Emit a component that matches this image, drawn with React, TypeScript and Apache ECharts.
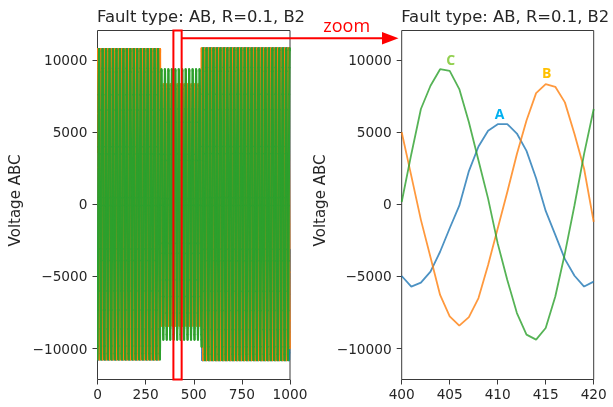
import React, { useEffect, useRef } from "react";
import * as echarts from "echarts";

// ---- data ----
const zoomX = [400, 401, 402, 403, 404, 405, 406, 407, 408, 409, 410, 411, 412, 413, 414, 415, 416, 417, 418, 419, 420];
const phaseA = [-4970, -5700, -5430, -4670, -3290, -1660, -100, 2300, 4000, 5100, 5550, 5550, 4900, 3700, 1800, -460, -2120, -3800, -4950, -5700, -5360];
const phaseB = [4990, 1970, -1080, -3670, -6280, -7770, -8410, -7820, -6500, -4200, -1680, 850, 3490, 5800, 7700, 8320, 8140, 7060, 4870, 2460, -1220];
const phaseC = [160, 3470, 6600, 8210, 9360, 9240, 7980, 5680, 3030, 390, -2710, -5240, -7540, -9030, -9380, -8570, -6390, -3400, -70, 3490, 6600];

// one measured cycle (samples 401..418) of each phase, taken from the zoom window
const cycleStart = 401;
const cycleLength = 18;

// envelope of the full record (balanced before / after the fault)
const sampleCount = 1000;
const faultStart = 326;
const faultEnd = 541;
const prefaultPeak = 10750;
const postfaultPeak = 10800;

const yTicks = [-10000, -5000, 0, 5000, 10000];
const yMin = -12140;
const yMax = 12040;
const titleText = "Fault type: AB, R=0.1, B2";
const yName = "Voltage ABC";
const phaseNames = ["A", "B", "C"];
const phaseLabelX = [410.2, 415.1, 405.1];
const phaseLabelY = [6300, 9120, 10000];
const phaseLabelColors = ["#00b0f0", "#ffc000", "#92d050"];
const lineColors = ["#1f77b4", "#ff7f0e", "#2ca02c"];

function buildRecord(measured: number[]) {
  const cycle = measured.slice(cycleStart - zoomX[0], cycleStart - zoomX[0] + cycleLength);
  const maxPos = Math.max(...cycle);
  const maxNeg = -Math.min(...cycle);
  const out: number[][] = [];
  for (let n = 0; n < sampleCount; n++) {
    const zi = n - zoomX[0];
    let v: number;
    if (zi >= 0 && zi < measured.length) {
      v = measured[zi];
    } else {
      const k = (((n - cycleStart) % cycleLength) + cycleLength) % cycleLength;
      const c = cycle[k];
      if (n >= faultStart && n < faultEnd) v = c;
      else {
        const env = n < faultStart ? prefaultPeak : postfaultPeak;
        v = c >= 0 ? (c * env) / maxPos : (c * env) / maxNeg;
      }
    }
    out.push([n, v]);
  }
  return out;
}

const fmtY = (v: number) => (v < 0 ? "\u2212" + Math.abs(v) : String(v));
const TXT = "#262626";
const FRAME = "#3a3a3a";
const RED = "#ff0000";

export default function App() {
  const ref = useRef<HTMLDivElement>(null);
  useEffect(() => {
    if (!ref.current) return;
    const chart = echarts.init(ref.current, undefined, { renderer: "svg" });
    const phases = [phaseA, phaseB, phaseC];
    const grids = [
      { left: 97.5, top: 30.5, width: 192.5, height: 349 },
      { left: 401.7, top: 30.5, width: 192, height: 349 },
    ];
    const yAxisCommon = (gi: number) => ({
      type: "value",
      gridIndex: gi,
      min: yMin,
      max: yMax,
      splitLine: { show: false },
      axisLine: { show: false, onZero: false },
      axisTick: { show: true, inside: false, length: 5, lineStyle: { color: FRAME, width: 1 }, customValues: yTicks },
      axisLabel: {
        show: true,
        margin: 10,
        color: TXT,
        fontSize: 13.7,
        fontFamily: "DejaVu Sans",
        customValues: yTicks,
        formatter: (v: number) => fmtY(v),
      },
    });
    const xAxisCommon = (gi: number, min: number, max: number, interval: number) => ({
      type: "value",
      gridIndex: gi,
      position: "bottom",
      min,
      max,
      interval,
      splitLine: { show: false },
      axisLine: { show: false, onZero: false },
      axisTick: { show: true, inside: false, length: 5, lineStyle: { color: FRAME, width: 1 } },
      axisLabel: { margin: 7, color: TXT, fontSize: 13.7, fontFamily: "DejaVu Sans", formatter: (v: number) => String(v) },
    });
    const series: any[] = [];
    phases.forEach((ph, i) => {
      const rec = buildRecord(ph);
      series.push({
        type: "custom",
        coordinateSystem: "cartesian2d",
        xAxisIndex: 0,
        yAxisIndex: 0,
        data: rec,
        encode: { x: 0, y: 1 },
        silent: true,
        clip: true,
        renderItem: (params: any, api: any) => {
          const idx = params.dataIndex;
          if (idx === 0) return null;
          const a = api.coord(rec[idx - 1]);
          const b = api.coord([api.value(0), api.value(1)]);
          return {
            type: "line",
            shape: { x1: a[0], y1: a[1], x2: b[0], y2: b[1] },
            style: { stroke: lineColors[i], lineWidth: 2.1, lineCap: "round" },
          };
        },
      });
    });
    phases.forEach((ph, i) => {
      series.push({
        type: "line",
        xAxisIndex: 1,
        yAxisIndex: 1,
        data: zoomX.map((x, j) => [x, ph[j]]),
        showSymbol: false,
        symbol: "none",
        lineStyle: { color: lineColors[i], width: 1.8, opacity: 0.8 },
        silent: true,
      });
    });
    chart.setOption({
      animation: false,
      grid: grids.map((g) => ({ ...g, show: true, borderColor: FRAME, borderWidth: 1, backgroundColor: "transparent", containLabel: false })),
      xAxis: [xAxisCommon(0, 0, 1000, 250), xAxisCommon(1, 400, 420, 5)],
      yAxis: [yAxisCommon(0), yAxisCommon(1)],
      series,
    });

    const px = (gi: number, x: number, y: number) => chart.convertToPixel({ gridIndex: gi } as any, [x, y]) as number[];
    const gTop = px(0, 0, yMax)[1];
    const gBot = px(0, 0, yMin)[1];
    const zl = px(0, zoomX[0], 0)[0];
    const zr = px(0, zoomX[zoomX.length - 1], 0)[0];
    const rightLeft = px(1, 400, 0)[0];
    const rectL = zl - 1.1;
    const rectR = zr + 3.3;
    const arrowY = gTop + 7.8;
    const tip = rightLeft - 3.2;
    const graphic: any[] = [];
    [grids[0].left, grids[1].left].forEach((l) => {
      graphic.push({
        type: "text",
        x: l - 0.5,
        y: 16,
        style: { text: titleText, fontSize: 16.4, fontFamily: "DejaVu Sans", fill: TXT, align: "left", verticalAlign: "middle" },
      });
    });
    [15, 320].forEach((cx) => {
      graphic.push({
        type: "text",
        x: cx,
        y: 200.5,
        rotation: Math.PI / 2,
        style: { text: yName, fontSize: 15, fontFamily: "DejaVu Sans", fill: TXT, align: "center", verticalAlign: "middle" },
      });
    });
    graphic.push({
      type: "rect",
      shape: { x: rectL, y: gTop, width: rectR - rectL, height: gBot - gTop },
      style: { fill: "none", stroke: RED, lineWidth: 2 },
      z: 100,
    });
    graphic.push({
      type: "line",
      shape: { x1: rectR, y1: arrowY, x2: tip - 10, y2: arrowY },
      style: { stroke: RED, lineWidth: 2 },
      z: 100,
    });
    graphic.push({
      type: "polygon",
      shape: { points: [[tip - 16.5, arrowY - 6.3], [tip, arrowY], [tip - 16.5, arrowY + 6.3]] },
      style: { fill: RED },
      z: 100,
    });
    graphic.push({
      type: "text",
      x: 346.7,
      y: 25.3,
      style: { text: "zoom", fontSize: 18, fontFamily: "Open Sans", fill: RED, align: "center", verticalAlign: "middle" },
      z: 100,
    });
    phaseNames.forEach((nm, i) => {
      const p = px(1, phaseLabelX[i], phaseLabelY[i]);
      graphic.push({
        type: "text",
        x: p[0],
        y: p[1],
        style: { text: nm, fontSize: 14, fontWeight: "bold", fontFamily: "Open Sans", fill: phaseLabelColors[i], align: "center", verticalAlign: "middle" },
        z: 100,
      });
    });
    chart.setOption({ graphic });
    return () => chart.dispose();
  }, []);
  return <div ref={ref} style={{ position: "fixed", left: 0, top: 0, width: 613, height: 407 }} />;
}
